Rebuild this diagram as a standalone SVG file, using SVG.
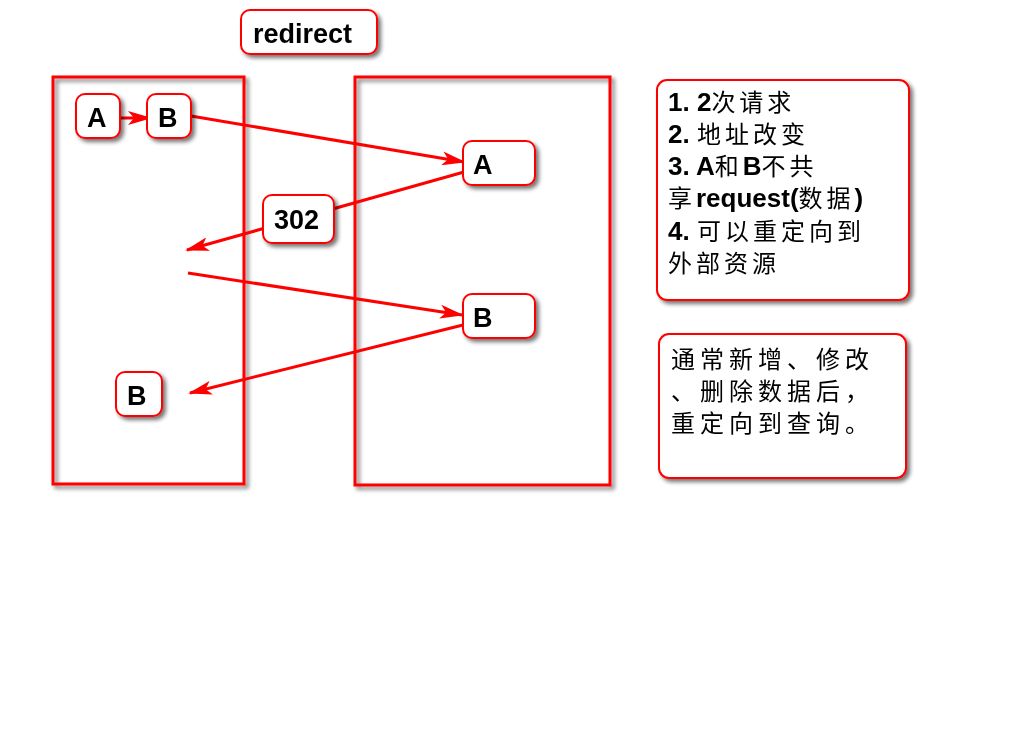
<svg xmlns="http://www.w3.org/2000/svg" width="1024" height="742" viewBox="0 0 1024 742">
<defs>
<filter id="sh" x="-20%" y="-20%" width="150%" height="150%">
<feGaussianBlur in="SourceAlpha" stdDeviation="2"/>
<feOffset dx="3" dy="3" result="b"/>
<feComponentTransfer><feFuncA type="linear" slope="0.55"/></feComponentTransfer>
<feMerge><feMergeNode/><feMergeNode in="SourceGraphic"/></feMerge>
</filter>
<marker id="ah" markerWidth="24" markerHeight="14" refX="22" refY="7" orient="auto" markerUnits="userSpaceOnUse">
<path d="M0,0 L24,7 L0,14 L6,7 Z" fill="#ff0000"/>
</marker>
<style>
.frame{fill:none;stroke:#ff0000;stroke-width:3}
.node{fill:#ffffff;stroke:#ff0000;stroke-width:2}
.lbl{font-family:"Liberation Sans",Arial,sans-serif;font-weight:bold;font-size:27px;fill:#000}
.txt{font-family:"Liberation Sans","Noto Sans CJK SC",sans-serif;font-size:24px;fill:#000}
.cjk{font-family:"Noto Sans CJK SC",sans-serif;font-weight:normal;font-size:24px;letter-spacing:4px}
.b{font-weight:bold;font-size:26px}
.conn{stroke:#ff0000;stroke-width:3;fill:none;marker-end:url(#ah)}
</style>
</defs>
<rect width="1024" height="742" fill="#ffffff"/>
<g id="leftFrame" filter="url(#sh)"><rect class="frame" x="53" y="77" width="191" height="407"/></g>
<g id="rightFrame" filter="url(#sh)"><rect class="frame" x="355" y="77" width="255" height="408"/></g>
<g id="title" filter="url(#sh)"><rect class="node" x="241" y="10" width="136" height="44" rx="9"/><text class="lbl" x="253" y="43">redirect</text></g>
<g id="connectors">
<line class="conn" x1="118" y1="118" x2="150" y2="118"/>
<line class="conn" x1="191" y1="116" x2="464" y2="162"/>
<line class="conn" x1="464" y1="172" x2="187" y2="250"/>
<line class="conn" x1="188" y1="273" x2="462" y2="315"/>
<line class="conn" x1="463" y1="325" x2="190" y2="393"/>
</g>
<g id="nodeA1" filter="url(#sh)"><rect class="node" x="76" y="94" width="44" height="44" rx="9"/><text class="lbl" x="87" y="127">A</text></g>
<g id="nodeB1" filter="url(#sh)"><rect class="node" x="147" y="94" width="44" height="44" rx="9"/><text class="lbl" x="158" y="127">B</text></g>
<g id="nodeA2" filter="url(#sh)"><rect class="node" x="463" y="141" width="72" height="44" rx="9"/><text class="lbl" x="473" y="174">A</text></g>
<g id="node302" filter="url(#sh)"><rect class="node" x="263" y="195" width="71" height="48" rx="9"/><text class="lbl" x="274" y="229">302</text></g>
<g id="nodeB2" filter="url(#sh)"><rect class="node" x="463" y="294" width="72" height="44" rx="9"/><text class="lbl" x="473" y="327">B</text></g>
<g id="nodeB3" filter="url(#sh)"><rect class="node" x="116" y="372" width="46" height="44" rx="9"/><text class="lbl" x="127" y="405">B</text></g>
<g id="note1" filter="url(#sh)">
<rect class="node" x="657" y="80" width="252" height="220" rx="10"/>
<text class="txt" x="668" y="111"><tspan class="b">1. 2</tspan><tspan class="cjk">次请求</tspan></text>
<text class="txt" x="668" y="143"><tspan class="b">2. </tspan><tspan class="cjk">地址改变</tspan></text>
<text class="txt" x="668" y="175"><tspan class="b">3. A</tspan><tspan class="cjk">和</tspan><tspan class="b">B</tspan><tspan class="cjk">不共</tspan></text>
<text class="txt" x="668" y="207"><tspan class="cjk">享</tspan><tspan class="b">request(</tspan><tspan class="cjk">数据</tspan><tspan class="b">)</tspan></text>
<text class="txt" x="668" y="240"><tspan class="b">4. </tspan><tspan class="cjk">可以重定向到</tspan></text>
<text class="txt" x="668" y="272"><tspan class="cjk">外部资源</tspan></text>
</g>
<g id="note2" filter="url(#sh)">
<rect class="node" x="659" y="334" width="247" height="144" rx="10"/>
<text class="txt" x="671" y="368"><tspan class="cjk" style="letter-spacing:5px">通常新增、修改</tspan></text>
<text class="txt" x="671" y="400"><tspan class="cjk" style="letter-spacing:5px">、删除数据后，</tspan></text>
<text class="txt" x="671" y="432"><tspan class="cjk" style="letter-spacing:5px">重定向到查询。</tspan></text>
</g>
</svg>
